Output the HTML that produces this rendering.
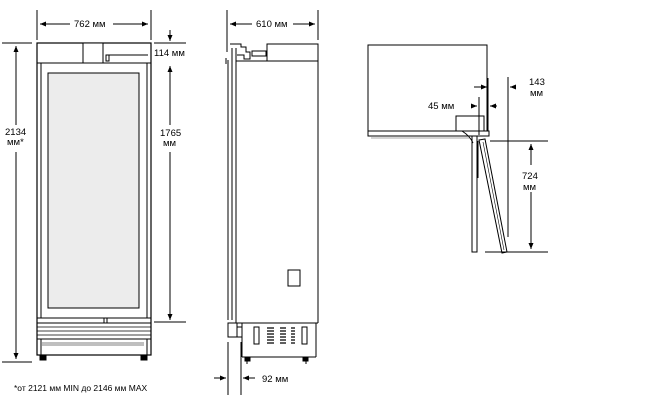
<!DOCTYPE html>
<html><head><meta charset="utf-8"><style>
html,body{margin:0;padding:0;background:#fff;}
svg{display:block;}
text{font-family:"Liberation Sans",sans-serif;font-size:9.5px;fill:#000;}
</style></head><body>
<svg width="650" height="400" viewBox="0 0 650 400" xmlns="http://www.w3.org/2000/svg">
<defs>
<marker id="a" markerWidth="6" markerHeight="6" refX="6" refY="3" orient="auto" markerUnits="userSpaceOnUse"><path d="M0,0.5 L6,3 L0,5.5z" fill="#000"/></marker>
</defs>
<g stroke="#000" stroke-width="1" fill="none">
<!-- FRONT VIEW -->
<line x1="37" y1="10" x2="37" y2="40"/><line x1="151" y1="10" x2="151" y2="40"/>
<line x1="70" y1="24" x2="40" y2="24" marker-end="url(#a)"/><line x1="113" y1="24" x2="148" y2="24" marker-end="url(#a)"/>
<line x1="2" y1="43" x2="32" y2="43"/><line x1="2" y1="362" x2="32" y2="362"/>
<line x1="16" y1="125" x2="16" y2="46" marker-end="url(#a)"/><line x1="16" y1="152" x2="16" y2="359" marker-end="url(#a)"/>
<line x1="154" y1="43" x2="186" y2="43"/><line x1="154" y1="322" x2="186" y2="322"/>
<line x1="170" y1="30" x2="170" y2="41" marker-end="url(#a)"/>
<line x1="170" y1="125" x2="170" y2="66" marker-end="url(#a)"/><line x1="170" y1="152" x2="170" y2="320" marker-end="url(#a)"/>
<rect x="37" y="43" width="114" height="312" stroke-width="1.2"/>
<line x1="37" y1="63" x2="151" y2="63"/>
<rect x="83" y="43" width="20" height="20" fill="#fff"/>
<rect x="106" y="55" width="3" height="6"/><line x1="109" y1="55" x2="148" y2="55"/>
<line x1="41" y1="63" x2="41" y2="318"/><line x1="147" y1="63" x2="147" y2="318"/>
<rect x="48" y="73" width="91" height="235" fill="#ececec"/>
<line x1="37" y1="318" x2="151" y2="318"/><line x1="37" y1="323" x2="151" y2="323"/>
<line x1="104" y1="318" x2="104" y2="323"/><line x1="107" y1="318" x2="107" y2="323"/>
<line x1="37" y1="327" x2="151" y2="327" stroke-width=".7"/>
<line x1="37" y1="331" x2="151" y2="331" stroke-width=".7"/>
<line x1="37" y1="335" x2="151" y2="335" stroke-width=".7"/>
<line x1="37" y1="339" x2="151" y2="339"/>
<path d="M42,343 L144,343 M42,345 L144,345" stroke-width=".6"/>
<line x1="41" y1="339" x2="41" y2="355"/><line x1="147" y1="339" x2="147" y2="355"/>
<rect x="40" y="355" width="6" height="5" fill="#000"/><rect x="141" y="355" width="6" height="5" fill="#000"/>
<!-- SIDE VIEW -->
<line x1="227" y1="10" x2="227" y2="52"/><line x1="318" y1="10" x2="318" y2="40"/>
<line x1="252" y1="24" x2="230" y2="24" marker-end="url(#a)"/><line x1="293" y1="24" x2="315" y2="24" marker-end="url(#a)"/>
<path d="M230,44 L241,44 L241,47 L246,47 L246,52 L250,52 L250,59 L244,59 L244,55 L237,55"/>
<rect x="252" y="51" width="14" height="5"/>
<rect x="267" y="44" width="51" height="17" fill="#fff"/>
<line x1="228" y1="60" x2="228" y2="320"/><line x1="232" y1="48" x2="232" y2="320"/>
<line x1="236" y1="48" x2="236" y2="323"/>
<line x1="226" y1="58" x2="226" y2="64"/>
<line x1="236" y1="61" x2="318" y2="61"/>
<line x1="318" y1="61" x2="318" y2="323"/>
<line x1="236" y1="323" x2="318" y2="323"/>
<rect x="228" y="323" width="9" height="14"/>
<rect x="237" y="327" width="5" height="10"/>
<line x1="242" y1="323" x2="242" y2="357"/><line x1="316" y1="323" x2="316" y2="357"/>
<line x1="242" y1="357" x2="316" y2="357"/>
<rect x="288" y="270" width="12" height="16"/>
<rect x="254" y="327" width="5" height="17"/><rect x="302" y="327" width="5" height="17"/>
<path d="M267,328H274M280,328H286M291,328H295M267,331H274M280,331H286M291,331H295M267,334H274M280,334H286M291,334H295M267,337H274M280,337H286M291,337H295M267,340H274M280,340H286M291,340H295M267,343H274M280,343H286M291,343H295" stroke-width="1.3"/>
<rect x="245" y="357" width="5" height="4" fill="#000"/><rect x="303" y="357" width="5" height="4" fill="#000"/>
<line x1="247" y1="361" x2="247" y2="364"/><line x1="306" y1="361" x2="306" y2="364"/>
<line x1="228" y1="342" x2="228" y2="395"/><line x1="241" y1="342" x2="241" y2="395"/>
<line x1="214" y1="378" x2="226" y2="378" marker-end="url(#a)"/><line x1="255" y1="378" x2="243" y2="378" marker-end="url(#a)"/>
<!-- TOP VIEW -->
<rect x="368" y="45" width="119" height="86"/>
<line x1="488" y1="78" x2="488" y2="131"/>
<rect x="456" y="116" width="28" height="15"/>
<rect x="368" y="131" width="121" height="5" fill="#fff"/>
<line x1="371" y1="138" x2="470" y2="138" stroke="#aaa"/>
<path d="M462,131 Q470,136 473,143" />
<rect x="472" y="136" width="5" height="116"/>
<line x1="478" y1="141" x2="478" y2="178"/>
<path d="M479,140 L485,139 L507,252 L502,253 Z"/>
<line x1="483" y1="142" x2="504" y2="250" stroke-width=".6"/>
<line x1="479" y1="97" x2="479" y2="135"/>
<line x1="472" y1="106" x2="477" y2="106" marker-end="url(#a)"/>
<line x1="497" y1="106" x2="490" y2="106" marker-end="url(#a)"/>
<line x1="474" y1="87" x2="487" y2="87" marker-end="url(#a)"/>
<line x1="516" y1="87" x2="510" y2="87" marker-end="url(#a)"/>
<line x1="508" y1="77" x2="508" y2="237"/>
<line x1="490" y1="141" x2="548" y2="141"/><line x1="485" y1="252" x2="548" y2="252"/>
<line x1="531" y1="165" x2="531" y2="144" marker-end="url(#a)"/><line x1="531" y1="192" x2="531" y2="249" marker-end="url(#a)"/>
</g>
<text x="74" y="27">762 мм</text>
<text x="154" y="56">114 мм</text>
<text x="160" y="136">1765</text><text x="163" y="146">мм</text>
<text x="5" y="135">2134</text><text x="7" y="145">мм*</text>
<text x="256" y="27">610 мм</text>
<text x="262" y="382">92 мм</text>
<text x="428" y="109">45 мм</text>
<text x="529" y="85">143</text><text x="530" y="96">мм</text>
<text x="522" y="179">724</text><text x="523" y="190">мм</text>
<text x="14" y="391" style="font-size:8.5px">*от 2121 мм MIN до 2146 мм MAX</text>
</svg>
</body></html>
